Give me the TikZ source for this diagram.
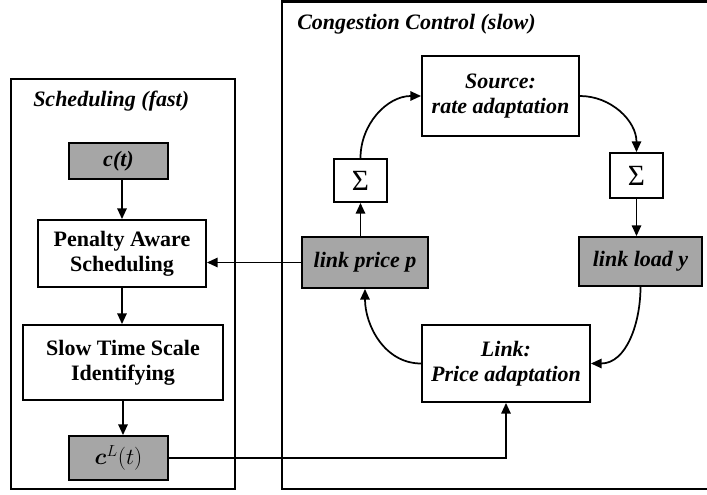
\documentclass[tikz,border=0pt]{standalone}
\usepackage{fontspec}
\setmainfont{Liberation Serif}
\usepackage{bm}
\usetikzlibrary{arrows.meta}
\definecolor{boxgray}{RGB}{166,166,166}
\begin{document}
\begin{tikzpicture}[x=0.75pt,y=-0.75pt,
  every node/.style={font=\fontsize{16.5}{19}\selectfont},
  box/.style={draw=black,line width=1.4pt,align=center,inner sep=0pt},
  graybox/.style={box,fill=boxgray},
  sumbox/.style={box,font=\fontsize{22}{24}\selectfont},
  frame/.style={draw=black,line width=2.2pt},
  title/.style={anchor=west,inner sep=0pt,font=\fontsize{16.5}{19}\selectfont\bfseries\itshape},
  arr/.style={line width=1.3pt,-{Triangle[length=8pt,width=7pt]}}]
\useasboundingbox (0,0) rectangle (707,495);
\clip (0,0) rectangle (707,495);

% outer frames
\draw[frame] (11,79) rectangle (235,489);
\draw[frame] (282,1.3) rectangle (720,489);
\node[title] (tfast) at (33,101) {Scheduling (fast)};
\node[title] (tslow) at (297,24) {Congestion Control (slow)};

% scheduling column
\node[graybox,minimum width=74.25pt,minimum height=27pt] (ct) at (118.5,161)
  {\bfseries\itshape c(t)};
\node[box,minimum width=126pt,minimum height=50.25pt] (pen) at (122,253.5)
  {\bfseries Penalty Aware\\\bfseries Scheduling};
\node[box,minimum width=150pt,minimum height=56.25pt] (slow) at (123,362.5)
  {\bfseries Slow Time Scale\\\bfseries Identifying};
\node[graybox,minimum width=74.25pt,minimum height=33pt,
  font=\fontsize{18}{20}\selectfont] (cL) at (118.5,458)
  {$\bm{c}^{L}(t)$};

% congestion control loop
\node[box,minimum width=117.75pt,minimum height=60pt] (src) at (500.5,96)
  {\bfseries\itshape Source:\\\bfseries\itshape rate adaptation};
\node[sumbox,minimum width=39.75pt,minimum height=32.25pt] (sigL) at (360.5,180.5) {Σ};
\node[sumbox,minimum width=39.75pt,minimum height=33.75pt] (sigR) at (636.5,175.5) {Σ};
\node[graybox,minimum width=94.5pt,minimum height=38.25pt] (lp) at (365,262.5)
  {\bfseries\itshape link price p};
\node[graybox,minimum width=92.25pt,minimum height=36.75pt] (ll) at (640.5,261.5)
  {\bfseries\itshape link load y};
\node[box,minimum width=126pt,minimum height=57.75pt] (link) at (506,363.5)
  {\bfseries\itshape Link:\\\bfseries\itshape Price adaptation};

% connectors
\draw[arr] (ct.south -| pen.north) -- (pen.north);
\draw[arr] (pen.south) -- (pen.south |- slow.north);
\draw[arr] (slow.south) -- (slow.south |- cL.north);
\draw[arr] (lp.west) -- (lp.west -| pen.east);
\draw[arr] (lp.north -| sigL.south) -- (sigL.south);
\draw[arr] (sigL.north) to[out=90,in=180] (src.west);
\draw[arr] (src.east) to[out=0,in=90] (sigR.north);
\draw[arr] (sigR.south) -- (sigR.south |- ll.north);
\draw[arr] (ll.south) to[out=-90,in=0] (link.east);
\draw[arr] (link.west) to[out=180,in=-90] (lp.south);
\draw[arr] (cL.east) -| (link.south);
\end{tikzpicture}
\end{document}
